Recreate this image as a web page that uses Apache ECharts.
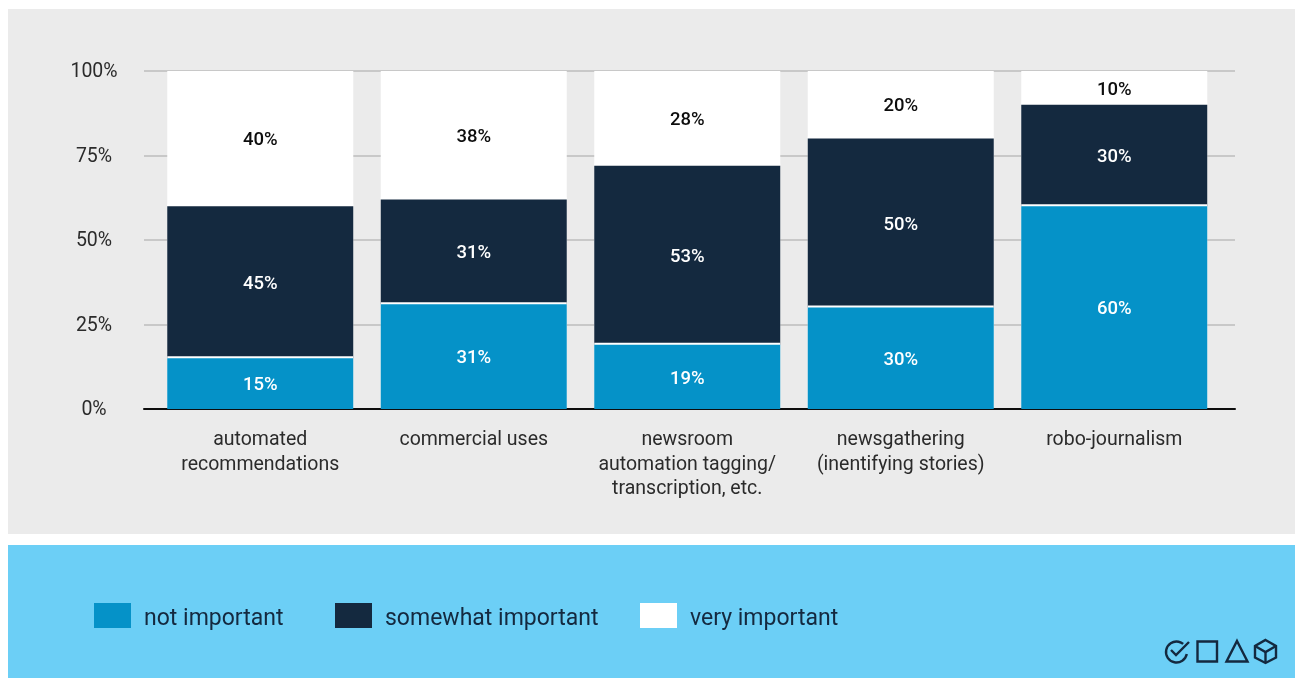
<!DOCTYPE html>
<html>
<head>
<meta charset="utf-8">
<style>html,body{margin:0;padding:0;background:#fff}#chart{width:1297px;height:678px}</style>
<script src="https://cdn.jsdelivr.net/npm/echarts@6/dist/echarts.min.js"></script>
</head>
<body>
<div id="chart"></div>
<script>
const categories = ['automated\nrecommendations', 'commercial uses', 'newsroom\nautomation tagging/\ntranscription, etc.', 'newsgathering\n(inentifying stories)', 'robo-journalism'];
const notImportant = [15, 31, 19, 30, 60];
const somewhatImportant = [45, 31, 53, 50, 30];
const veryImportant = [40, 38, 28, 20, 10];

const BLUE = '#0592c8', NAVY = '#14293f', FONT = 'Roboto, sans-serif';
const chart = echarts.init(document.getElementById('chart'), null, {renderer: 'canvas'});

// White hairline above a segment, drawn as a hard upward shadow
const segment = (name, data, color, labelColor, z, edge) => ({
  name, type: 'bar', stack: 'share', data, xAxisIndex: 0, yAxisIndex: 0, barWidth: 186, z,
  itemStyle: edge ? {color, shadowColor: '#fff', shadowBlur: 0, shadowOffsetY: -2} : {color},
  label: {show: true, position: 'inside', offset: [0, 2], formatter: '{c}%', color: labelColor, fontFamily: FONT, fontSize: 18.5, fontWeight: 500}
});

// The swatch sits at the top of a taller legend item so its text centres lower
const legendAt = (name, left) => ({
  data: [name], left, top: 603, itemWidth: 37, itemHeight: 33, itemGap: 0, padding: 0,
  icon: 'path://M0 0H37V25H0Z M0 33L0 33Z',
  selectedMode: false, textStyle: {color: NAVY, fontFamily: FONT, fontSize: 23, padding: [0, 0, 0, 8]}
});

const stroke = {fill: 'none', stroke: NAVY, lineWidth: 2.4};

chart.setOption({
  animation: false,
  grid: [
    {left: 153.5, right: 76, top: 71, bottom: 269},
    {left: 144, right: 62, top: 71, bottom: 269}
  ],
  xAxis: [
    {gridIndex: 0, type: 'category', data: categories, axisLine: {show: false}, axisTick: {show: false},
     axisLabel: {interval: 0, color: '#2b2b2b', fontFamily: FONT, fontSize: 19.5, lineHeight: 24.5, margin: 19, verticalAlign: 'top'}},
    {gridIndex: 1, type: 'value', min: 0, max: 1, axisLine: {show: true, onZero: false, lineStyle: {color: '#0d0d0d', width: 2}},
     axisTick: {show: false}, axisLabel: {show: false}, splitLine: {show: false}}
  ],
  yAxis: [
    {gridIndex: 0, type: 'value', min: 0, max: 100, interval: 25, show: false},
    {gridIndex: 1, type: 'value', min: 0, max: 100, interval: 25, axisLine: {show: false}, axisTick: {show: false},
     axisLabel: {align: 'center', margin: 50, color: '#2b2b2b', fontFamily: FONT, fontSize: 19.5, verticalAlign: 'top', lineHeight: 3, formatter: '{value}%'},
     splitLine: {show: true, lineStyle: {color: '#c8c8c8', width: 2}}}
  ],
  legend: [legendAt('not important', 94), legendAt('somewhat important', 335), legendAt('very important', 640)],
  series: [
    segment('not important', notImportant, BLUE, '#fff', 4, true),
    segment('somewhat important', somewhatImportant, NAVY, '#fff', 3, true),
    segment('very important', veryImportant, '#fff', '#0d0d0d', 2, false)
  ],
  graphic: [
    {type: 'rect', z: -10, shape: {x: 8, y: 9, width: 1287, height: 525}, style: {fill: '#ebebeb'}},
    {type: 'rect', z: -10, shape: {x: 8, y: 545, width: 1287, height: 133}, style: {fill: '#6ccff6'}},
    // Logo marks: checked circle, square, triangle, cube
    {type: 'group', x: 1165, y: 640, z: 5, children: [
      {type: 'arc', shape: {cx: 11.5, cy: 12, r: 10.5, startAngle: 0.2, endAngle: 5.4, clockwise: true}, style: stroke},
      {type: 'polyline', shape: {points: [[6, 10], [11, 15], [24, 2]]}, style: stroke},
      {type: 'rect', shape: {x: 32.5, y: 1.5, width: 19.5, height: 20}, style: stroke},
      {type: 'polygon', shape: {points: [[72, 1], [82.5, 21.5], [61.5, 21.5]]}, style: stroke},
      {type: 'polygon', shape: {points: [[100.5, 0], [111, 6], [111, 17.5], [100.5, 23], [90, 17.5], [90, 6]]}, style: stroke},
      {type: 'polyline', shape: {points: [[90, 6], [100.5, 12], [111, 6]]}, style: stroke},
      {type: 'line', shape: {x1: 100.5, y1: 12, x2: 100.5, y2: 23}, style: stroke}
    ]}
  ]
});
</script>
</body>
</html>
